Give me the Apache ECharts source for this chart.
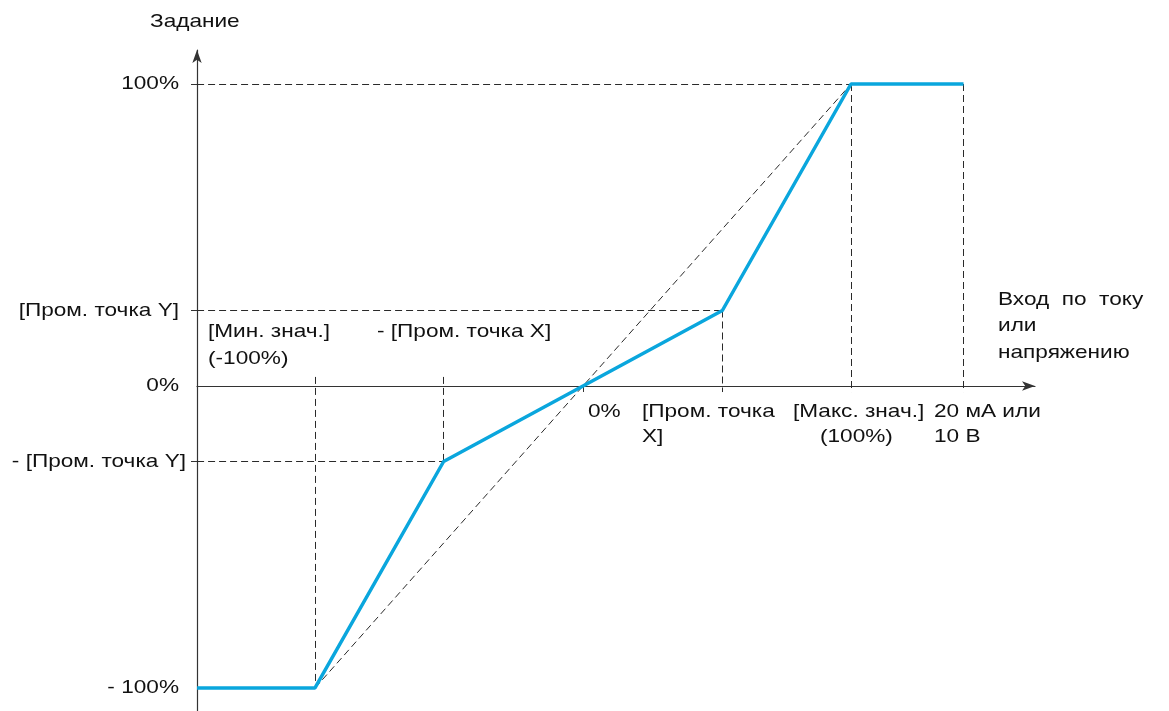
<!DOCTYPE html>
<html>
<head>
<meta charset="utf-8">
<script src="https://cdn.jsdelivr.net/npm/echarts@6/dist/echarts.min.js"></script>
<style>
  html, body { margin: 0; padding: 0; background: #fff; }
  #main { width: 1169px; height: 711px; }
</style>
</head>
<body>
<div id="main"></div>
<script>
// опорные точки характеристики (вход, задание), в %
var inputPoints = [-144, -100, -52, 0, 52, 100, 142];
var refPoints = [-100, -100, -25, 0, 25, 100, 100];

// штриховые вспомогательные линии
var guideSegments = [
  [[-144, 100], [100, 100]],
  [[-144, 25], [52, 25]],
  [[-144, -25], [-52, -25]],
  [[-100, 3], [-100, -100]],
  [[-52, 3], [-52, -25]],
  [[52, 25], [52, -2]],
  [[100, 100], [100, -2]],
  [[142, 100], [142, -2]],
  [[-100, -100], [100, 100]]
];

var yTickValues = [100, 25, 0, -25, -100];
var yTickLabels = ['100%', '[Пром. точка Y]', '0%', '- [Пром. точка Y]', '- 100%'];

var FONT = '19px "Liberation Sans", Arial, sans-serif';
var STRETCH = 1.19; // текст на оригинале чуть растянут по горизонтали

var chart = echarts.init(document.getElementById('main'));

var lineData = inputPoints.map(function (x, i) { return [x, refPoints[i]]; });

function txt(x, y, s, align) {
  return {
    type: 'text',
    x: x,
    y: y,
    scaleX: STRETCH,
    style: {
      text: s,
      font: FONT,
      fill: '#111',
      textAlign: align || 'left',
      textVerticalAlign: 'middle'
    }
  };
}

var option = {
  animation: false,
  backgroundColor: '#fff',
  grid: {
    left: 197,
    top: 50,
    width: 838,
    height: 661,
    outerBoundsMode: 'none'
  },
  xAxis: {
    type: 'value',
    min: -144.03,
    max: 168.66,
    splitLine: { show: false },
    axisLine: {
      onZero: true,
      symbol: ['none', 'arrow'],
      symbolSize: [7, 13],
      lineStyle: { color: '#333', width: 1.2 }
    },
    axisTick: {
      show: true,
      customValues: [0],
      length: 6,
      lineStyle: { color: '#333' }
    },
    axisLabel: { show: false }
  },
  yAxis: {
    type: 'value',
    min: -107.62,
    max: 111.26,
    splitLine: { show: false },
    axisLine: {
      onZero: false,
      symbol: ['none', 'arrow'],
      symbolSize: [7, 13],
      lineStyle: { color: '#333', width: 1.2 }
    },
    axisTick: {
      show: true,
      customValues: [100, 25, -25],
      length: 6,
      lineStyle: { color: '#333' }
    },
    axisLabel: { show: false }
  },
  series: [
    {
      type: 'lines',
      coordinateSystem: 'cartesian2d',
      silent: true,
      lineStyle: { color: '#2a2a2a', width: 1, type: [7, 4], opacity: 1 },
      data: guideSegments.map(function (s) { return { coords: s }; }),
      z: 1
    },
    {
      type: 'line',
      data: lineData,
      showSymbol: false,
      lineStyle: { color: '#0aa6dd', width: 3.5 },
      z: 3
    }
  ]
};

chart.setOption(option);

// подписи оси задания ставим по шкале оси
var yLabelEls = yTickValues.map(function (v, i) {
  var py = chart.convertToPixel({ yAxisIndex: 0 }, v);
  var right = yTickLabels[i].charAt(0) === '-' && v !== -100 ? 186 : 179;
  return txt(right, py, yTickLabels[i], 'right');
});

chart.setOption({
  graphic: yLabelEls.concat([
    txt(150, 22, 'Задание'),
    txt(208, 332, '[Мин. знач.]'),
    txt(208, 359, '(-100%)'),
    txt(377, 332, '- [Пром. точка X]'),
    txt(588, 412, '0%'),
    txt(642, 412, '[Пром. точка'),
    txt(642, 437, 'X]'),
    txt(793, 412, '[Макс. знач.]'),
    txt(820, 437, '(100%)'),
    txt(934, 412, '20 мА или'),
    txt(934, 437, '10 В'),
    txt(998, 300, 'Вход  по  току'),
    txt(998, 326, 'или'),
    txt(998, 353, 'напряжению')
  ])
});
</script>
</body>
</html>
